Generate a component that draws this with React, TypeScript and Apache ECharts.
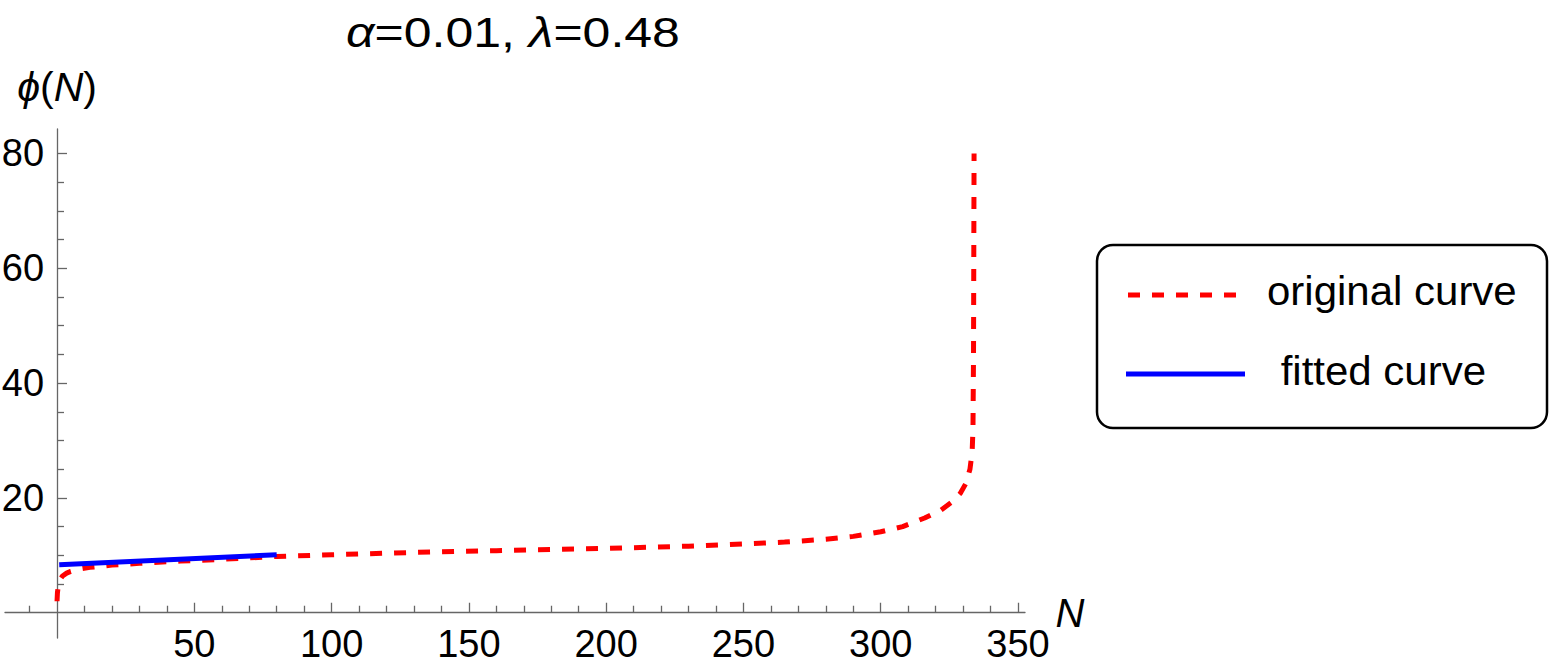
import React, { useEffect, useRef } from "react";
import * as echarts from "echarts";

const originalN = [0, 0.15, 0.5, 1, 2, 3.5, 5, 8, 12, 20, 30, 45, 60, 80, 100, 130, 160, 200, 230, 250, 265, 280, 290, 300, 308, 316, 322, 326, 329, 331, 332.5, 333.3, 333.6, 333.8, 334];
const originalPhi = [2.0, 3.5, 4.8, 5.7, 6.4, 6.9, 7.2, 7.6, 7.9, 8.3, 8.6, 9.0, 9.3, 9.8, 10.1, 10.5, 10.8, 11.2, 11.6, 12.0, 12.3, 12.8, 13.3, 14.1, 15.0, 16.5, 17.9, 19.3, 20.8, 22.5, 25, 28, 32, 45, 80];
const fittedN = [0.8, 80];
const fittedPhi = [8.35, 10.1];

const xMajorTicks = [50, 100, 150, 200, 250, 300, 350];
const xMinorTicks = [-10, 10, 20, 30, 40, 60, 70, 80, 90, 110, 120, 130, 140, 160, 170, 180, 190, 210, 220, 230, 240, 260, 270, 280, 290, 310, 320, 330, 340];
const yMajorTicks = [20, 40, 60, 80];
const yMinorTicks = [5, 10, 15, 25, 30, 35, 45, 50, 55, 65, 70, 75];

const titleText = "{i|α}=0.01, {i|λ}=0.48";
const legendLabels = ["original curve", " fitted curve"];

const FONT = "'Liberation Sans', Arial, 'DejaVu Sans', sans-serif";
const AXIS_COLOR = "#666666";

export default function App() {
  const ref = useRef<HTMLDivElement>(null);
  useEffect(() => {
    if (!ref.current) return;
    const chart = echarts.init(ref.current, null, { renderer: "svg" });
    const xMin = -18.95;
    const xMax = 352.55;
    const yMin = -4.4;
    const yMax = 84.25;
    const gridLeft = 5;
    const gridTop = 129;
    const gridW = 1020;
    const gridH = 509;
    // offsets so that the axes cross at the origin (lines still span the whole grid)
    const zeroX = gridLeft + ((0 - xMin) / (xMax - xMin)) * gridW;
    const zeroY = gridTop + ((yMax - 0) / (yMax - yMin)) * gridH;
    const xOffset = zeroY - (gridTop + gridH);
    const yOffset = gridLeft - zeroX;
    const lineStyle = { color: AXIS_COLOR, width: 1.3 };
    const option: any = {
      animation: false,
      backgroundColor: "#ffffff",
      grid: { left: gridLeft, top: gridTop, width: gridW, height: gridH, containLabel: false, outerBoundsMode: "none" },
      xAxis: [
        {
          type: "value",
          position: "bottom",
          offset: xOffset,
          min: xMin,
          max: xMax,
          axisLine: { onZero: false, lineStyle },
          axisTick: { show: true, inside: true, length: 10, customValues: xMajorTicks, lineStyle },
          axisLabel: { show: true, customValues: xMajorTicks, margin: 12, color: "#000", fontSize: 38, fontFamily: FONT },
          splitLine: { show: false },
          name: "N",
          nameLocation: "end",
          nameGap: 25,
          nameTextStyle: { fontSize: 40, fontStyle: "italic", fontFamily: FONT, color: "#000", verticalAlign: "middle" },
        },
        {
          type: "value",
          position: "bottom",
          offset: xOffset,
          min: xMin,
          max: xMax,
          axisLine: { onZero: false, show: false },
          axisTick: { show: true, inside: true, length: 7, customValues: xMinorTicks, lineStyle },
          axisLabel: { show: false },
          splitLine: { show: false },
        },
      ],
      yAxis: [
        {
          type: "value",
          position: "left",
          offset: yOffset,
          min: yMin,
          max: yMax,
          axisLine: { onZero: false, lineStyle },
          axisTick: { show: true, inside: true, length: 10, customValues: yMajorTicks, lineStyle },
          axisLabel: { show: true, customValues: yMajorTicks, margin: 13, color: "#000", fontSize: 38, fontFamily: FONT },
          splitLine: { show: false },
          name: "{i|ϕ}({i|N})",
          nameLocation: "end",
          nameGap: 22,
          nameTextStyle: {
            fontSize: 41,
            fontFamily: FONT,
            color: "#000",
            rich: { i: { fontSize: 41, fontStyle: "italic", fontFamily: FONT, color: "#000" } },
          },
        },
        {
          type: "value",
          position: "left",
          offset: yOffset,
          min: yMin,
          max: yMax,
          axisLine: { onZero: false, show: false },
          axisTick: { show: true, inside: true, length: 7, customValues: yMinorTicks, lineStyle },
          axisLabel: { show: false },
          splitLine: { show: false },
        },
      ],
      series: [
        {
          type: "line",
          name: "original curve",
          data: originalN.map((n, i) => [n, originalPhi[i]]),
          showSymbol: false,
          symbol: "none",
          lineStyle: { color: "#ff0000", width: 5, type: [12, 12], cap: "butt" },
          z: 2,
        },
        {
          type: "line",
          name: "fitted curve",
          data: fittedN.map((n, i) => [n, fittedPhi[i]]),
          showSymbol: false,
          symbol: "none",
          lineStyle: { color: "#0000ff", width: 5 },
          z: 3,
        },
      ],
      graphic: [
        {
          type: "text",
          x: 513,
          y: 32,
          scaleX: 1.19,
          style: {
            text: titleText,
            fontSize: 42,
            fontFamily: FONT,
            fill: "#000",
            textAlign: "center",
            verticalAlign: "middle",
            rich: { i: { fontSize: 42, fontStyle: "italic", fontFamily: FONT, fill: "#000" } },
          },
        },
        {
          type: "rect",
          shape: { x: 1097, y: 245, width: 450, height: 183, r: 16 },
          style: { fill: "#fff", stroke: "#000", lineWidth: 2.5 },
        },
        {
          type: "line",
          shape: { x1: 1128, y1: 295, x2: 1240, y2: 295 },
          style: { stroke: "#ff0000", lineWidth: 5, lineDash: [12, 12] },
        },
        {
          type: "line",
          shape: { x1: 1126, y1: 374, x2: 1245, y2: 374 },
          style: { stroke: "#0000ff", lineWidth: 5 },
        },
        {
          type: "text",
          x: 1267,
          y: 291,
          scaleX: 1.05,
          style: { text: legendLabels[0], fontSize: 40, fontFamily: FONT, fill: "#000", textAlign: "left", verticalAlign: "middle" },
        },
        {
          type: "text",
          x: 1269,
          y: 371,
          scaleX: 1.05,
          style: { text: legendLabels[1], fontSize: 40, fontFamily: FONT, fill: "#000", textAlign: "left", verticalAlign: "middle" },
        },
      ],
    };
    chart.setOption(option);
    return () => chart.dispose();
  }, []);
  return (
    <div
      ref={ref}
      style={{ position: "absolute", left: 0, top: 0, width: 1551, height: 672, background: "#fff" }}
    />
  );
}
